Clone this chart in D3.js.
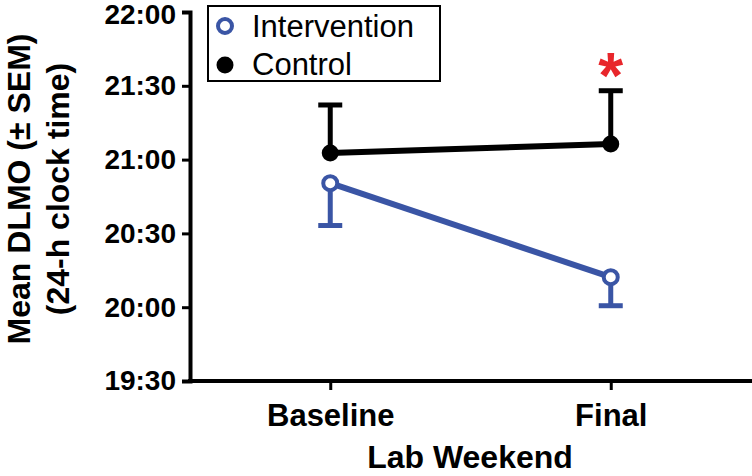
<!DOCTYPE html>
<html>
<head>
<meta charset="utf-8">
<script src="https://cdn.jsdelivr.net/npm/d3@7"></script>
<style>
  html, body { margin: 0; padding: 0; background: #fff; }
  svg { display: block; font-family: "Liberation Sans", Arial, sans-serif; }
</style>
</head>
<body>
<svg id="chart" width="752" height="476"></svg>
<script>
// ---- data (times in "HH:MM", 24-h clock) ----
const categories = ["Baseline", "Final"];
const interventionMean = ["20:50.4", "20:12.2"];
const interventionSEM = [17.2, 11.6];          // minutes
const controlMean = ["21:02.7", "21:06.3"];
const controlSEM = [19.5, 21.7];                // minutes
const yTickLabels = ["19:30", "20:00", "20:30", "21:00", "21:30", "22:00"];
const seriesNames = ["Intervention", "Control"];
const significance = ["", "*"];                 // marker above control per category

const toMin = s => { const [h, m] = s.split(":"); return +h * 60 + +m; };

const blue = "#3a55a5", black = "#000", red = "#e8262b";

const svg = d3.select("#chart");

const x = d3.scalePoint().domain(categories).range([190, 751]).padding(0.5);
const yDomain = [toMin(yTickLabels[0]), toMin(yTickLabels[yTickLabels.length - 1])];
const y = d3.scaleLinear().domain(yDomain).range([381, 12]);

// axes
const yAxis = d3.axisLeft(y)
  .tickValues(yTickLabels.map(toMin))
  .tickFormat((d, i) => yTickLabels[i])
  .tickSizeOuter(0).tickSize(8).tickPadding(6);
const gy = svg.append("g").attr("transform", "translate(190,0)").call(yAxis);
gy.select(".domain").attr("stroke-width", 4).attr("stroke", "#000");
gy.selectAll(".tick line").attr("stroke-width", 3).attr("stroke", "#000");
gy.selectAll(".tick text").attr("font-size", 28).attr("font-weight", "bold").attr("fill", "#000")
  .attr("dy", (d, i) => i === yTickLabels.length - 1 ? "0.40em" : "0.32em");

const xAxis = d3.axisBottom(x).tickSizeOuter(0).tickSize(9).tickPadding(14);
const gx = svg.append("g").attr("transform", "translate(0,381)").call(xAxis);
gx.select(".domain").attr("stroke-width", 4).attr("stroke", "#000")
  .attr("d", "M188,0H752");
gx.selectAll(".tick line").attr("stroke-width", 3).attr("stroke", "#000");
gx.selectAll(".tick text").attr("font-size", 31).attr("font-weight", "bold").attr("fill", "#000");

// axis titles
svg.append("text").attr("x", 470).attr("y", 468)
  .attr("text-anchor", "middle").attr("font-size", 32).attr("font-weight", "bold")
  .text("Lab Weekend");
const yt = svg.append("g").attr("transform", "translate(0,189) rotate(-90)");
yt.append("text").attr("x", 0).attr("y", 30).attr("text-anchor", "middle")
  .attr("font-size", 32).attr("font-weight", "bold").text("Mean DLMO (\u00B1 SEM)");
yt.append("text").attr("x", 0).attr("y", 69).attr("text-anchor", "middle")
  .attr("font-size", 32).attr("font-weight", "bold").text("(24-h clock time)");

// data prep
const intData = categories.map((c, i) => ({ c, v: toMin(interventionMean[i]), e: interventionSEM[i] }));
const conData = categories.map((c, i) => ({ c, v: toMin(controlMean[i]), e: controlSEM[i] }));
const line = d3.line().x(d => x(d.c)).y(d => y(d.v));

// error bars: control up, intervention down
function errBars(data, color, dir) {
  const g = svg.append("g").attr("stroke", color).attr("stroke-width", 5).attr("fill", "none");
  data.forEach(d => {
    const end = y(d.v + dir * d.e);
    g.append("line").attr("x1", x(d.c)).attr("x2", x(d.c)).attr("y1", y(d.v)).attr("y2", end);
    g.append("line").attr("x1", x(d.c) - 12).attr("x2", x(d.c) + 12).attr("y1", end).attr("y2", end);
  });
}
errBars(conData, black, 1);
errBars(intData, blue, -1);

svg.append("path").datum(conData).attr("d", line).attr("stroke", black).attr("stroke-width", 6).attr("fill", "none");
svg.append("path").datum(intData).attr("d", line).attr("stroke", blue).attr("stroke-width", 6).attr("fill", "none");

svg.selectAll(".cdot").data(conData).join("circle")
  .attr("cx", d => x(d.c)).attr("cy", d => y(d.v)).attr("r", 8.5).attr("fill", black);
svg.selectAll(".idot").data(intData).join("circle")
  .attr("cx", d => x(d.c)).attr("cy", d => y(d.v)).attr("r", 7).attr("fill", "#fff")
  .attr("stroke", blue).attr("stroke-width", 4);

// significance marker
svg.selectAll(".sig").data(conData).join("text")
  .attr("x", d => x(d.c)).attr("y", d => y(d.v + d.e) - 4)
  .attr("text-anchor", "middle").attr("font-size", 64).attr("font-weight", "bold")
  .attr("fill", red).attr("dy", "0.18em")
  .text((d, i) => significance[i]);

// legend
const lg = svg.append("g");
lg.append("rect").attr("x", 208).attr("y", 6).attr("width", 232).attr("height", 75)
  .attr("fill", "#fff").attr("stroke", "#000").attr("stroke-width", 2);
lg.append("circle").attr("cx", 225).attr("cy", 26).attr("r", 7)
  .attr("fill", "#fff").attr("stroke", blue).attr("stroke-width", 4);
lg.append("circle").attr("cx", 225).attr("cy", 65).attr("r", 8.5).attr("fill", black);
lg.append("text").attr("x", 252).attr("y", 37).attr("font-size", 31).text(seriesNames[0]);
lg.append("text").attr("x", 252).attr("y", 75).attr("font-size", 31).text(seriesNames[1]);
</script>
</body>
</html>
